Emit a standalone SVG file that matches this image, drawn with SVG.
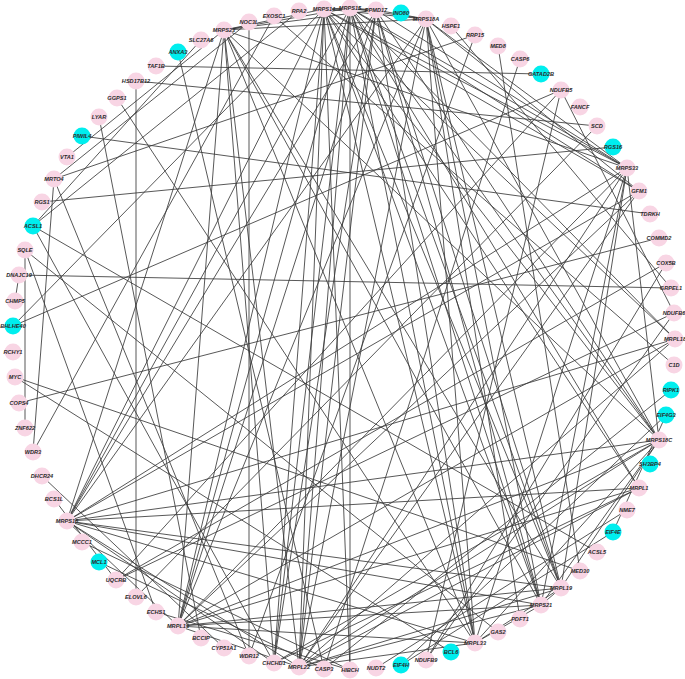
<svg xmlns="http://www.w3.org/2000/svg" width="685" height="679" viewBox="0 0 685 679">
<style>
.e line{stroke:#3a3a3a;stroke-width:0.85}
.node circle{fill:#F8D5E4}
.node.hub circle{fill:#00EEEE}
.node text{font-family:"Liberation Sans",Arial,sans-serif;font-size:5.6px;font-weight:bold;font-style:italic;fill:#2a2a2a;text-anchor:middle}
</style>
<rect width="685" height="679" fill="#fff"/>
<g id="connectors" class="e">
<line x1="224" y1="30" x2="324" y2="9"/><line x1="224" y1="30" x2="350" y2="8"/><line x1="224" y1="30" x2="376" y2="10"/><line x1="224" y1="30" x2="426" y2="19"/><line x1="224" y1="30" x2="627" y2="168"/><line x1="224" y1="30" x2="659" y2="440"/><line x1="224" y1="30" x2="561" y2="588"/><line x1="224" y1="30" x2="541" y2="605"/><line x1="224" y1="30" x2="475" y2="643"/><line x1="224" y1="30" x2="299" y2="667"/><line x1="224" y1="30" x2="178" y2="626"/><line x1="224" y1="30" x2="67" y2="521"/>
<line x1="324" y1="9" x2="350" y2="8"/><line x1="324" y1="9" x2="376" y2="10"/><line x1="324" y1="9" x2="426" y2="19"/><line x1="324" y1="9" x2="627" y2="168"/><line x1="324" y1="9" x2="659" y2="440"/><line x1="324" y1="9" x2="561" y2="588"/><line x1="324" y1="9" x2="541" y2="605"/><line x1="324" y1="9" x2="475" y2="643"/><line x1="324" y1="9" x2="299" y2="667"/><line x1="324" y1="9" x2="178" y2="626"/><line x1="324" y1="9" x2="67" y2="521"/>
<line x1="350" y1="8" x2="376" y2="10"/><line x1="350" y1="8" x2="426" y2="19"/><line x1="350" y1="8" x2="627" y2="168"/><line x1="350" y1="8" x2="659" y2="440"/><line x1="350" y1="8" x2="561" y2="588"/><line x1="350" y1="8" x2="541" y2="605"/><line x1="350" y1="8" x2="475" y2="643"/><line x1="350" y1="8" x2="299" y2="667"/><line x1="350" y1="8" x2="178" y2="626"/><line x1="350" y1="8" x2="67" y2="521"/>
<line x1="376" y1="10" x2="426" y2="19"/><line x1="376" y1="10" x2="627" y2="168"/><line x1="376" y1="10" x2="659" y2="440"/><line x1="376" y1="10" x2="561" y2="588"/><line x1="376" y1="10" x2="541" y2="605"/><line x1="376" y1="10" x2="475" y2="643"/><line x1="376" y1="10" x2="299" y2="667"/><line x1="376" y1="10" x2="178" y2="626"/><line x1="376" y1="10" x2="67" y2="521"/>
<line x1="426" y1="19" x2="627" y2="168"/><line x1="426" y1="19" x2="659" y2="440"/><line x1="426" y1="19" x2="561" y2="588"/><line x1="426" y1="19" x2="541" y2="605"/><line x1="426" y1="19" x2="475" y2="643"/><line x1="426" y1="19" x2="299" y2="667"/><line x1="426" y1="19" x2="178" y2="626"/><line x1="426" y1="19" x2="67" y2="521"/>
<line x1="627" y1="168" x2="659" y2="440"/><line x1="627" y1="168" x2="561" y2="588"/><line x1="627" y1="168" x2="541" y2="605"/><line x1="627" y1="168" x2="475" y2="643"/><line x1="627" y1="168" x2="299" y2="667"/><line x1="627" y1="168" x2="178" y2="626"/><line x1="627" y1="168" x2="67" y2="521"/>
<line x1="659" y1="440" x2="561" y2="588"/><line x1="659" y1="440" x2="541" y2="605"/><line x1="659" y1="440" x2="475" y2="643"/><line x1="659" y1="440" x2="299" y2="667"/><line x1="659" y1="440" x2="178" y2="626"/><line x1="659" y1="440" x2="67" y2="521"/>
<line x1="561" y1="588" x2="541" y2="605"/><line x1="561" y1="588" x2="475" y2="643"/><line x1="561" y1="588" x2="299" y2="667"/><line x1="561" y1="588" x2="178" y2="626"/><line x1="561" y1="588" x2="67" y2="521"/>
<line x1="541" y1="605" x2="475" y2="643"/><line x1="541" y1="605" x2="299" y2="667"/><line x1="541" y1="605" x2="178" y2="626"/><line x1="541" y1="605" x2="67" y2="521"/>
<line x1="475" y1="643" x2="299" y2="667"/><line x1="475" y1="643" x2="178" y2="626"/><line x1="475" y1="643" x2="67" y2="521"/>
<line x1="299" y1="667" x2="178" y2="626"/><line x1="299" y1="667" x2="67" y2="521"/><line x1="178" y1="626" x2="67" y2="521"/>
<line x1="639" y1="191" x2="324" y2="9"/><line x1="639" y1="191" x2="350" y2="8"/><line x1="639" y1="191" x2="426" y2="19"/><line x1="639" y1="191" x2="67" y2="521"/><line x1="639" y1="191" x2="178" y2="626"/><line x1="639" y1="191" x2="299" y2="667"/>
<line x1="675" y1="339" x2="67" y2="521"/><line x1="675" y1="339" x2="178" y2="626"/><line x1="675" y1="339" x2="324" y2="9"/><line x1="675" y1="339" x2="350" y2="8"/><line x1="675" y1="339" x2="299" y2="667"/>
<line x1="639" y1="488" x2="67" y2="521"/><line x1="639" y1="488" x2="178" y2="626"/><line x1="639" y1="488" x2="350" y2="8"/><line x1="639" y1="488" x2="324" y2="9"/><line x1="639" y1="488" x2="299" y2="667"/>
<line x1="274" y1="663" x2="224" y2="30"/><line x1="274" y1="663" x2="324" y2="9"/><line x1="274" y1="663" x2="350" y2="8"/><line x1="274" y1="663" x2="376" y2="10"/><line x1="274" y1="663" x2="659" y2="440"/><line x1="274" y1="663" x2="67" y2="521"/><line x1="274" y1="663" x2="639" y2="488"/>
<line x1="249" y1="22" x2="249" y2="656"/><line x1="136" y1="81" x2="136" y2="597"/><line x1="156" y1="66" x2="541" y2="74"/><line x1="136" y1="81" x2="597" y2="126"/><line x1="82" y1="136" x2="650" y2="214"/><line x1="42" y1="202" x2="613" y2="147"/>
<line x1="13" y1="326" x2="324" y2="9"/><line x1="13" y1="326" x2="561" y2="90"/><line x1="19" y1="275" x2="671" y2="288"/><line x1="19" y1="275" x2="15" y2="301"/><line x1="25" y1="250" x2="498" y2="632"/><line x1="25" y1="428" x2="25" y2="250"/>
<line x1="33" y1="452" x2="54" y2="179"/><line x1="25" y1="250" x2="156" y2="612"/><line x1="33" y1="226" x2="274" y2="663"/><line x1="33" y1="226" x2="299" y2="11"/><line x1="15" y1="377" x2="580" y2="571"/><line x1="19" y1="403" x2="659" y2="238"/>
<line x1="42" y1="476" x2="224" y2="648"/><line x1="54" y1="499" x2="116" y2="580"/><line x1="99" y1="562" x2="324" y2="669"/><line x1="116" y1="580" x2="561" y2="90"/><line x1="116" y1="580" x2="666" y2="263"/><line x1="116" y1="580" x2="674" y2="313"/>
<line x1="426" y1="660" x2="674" y2="313"/><line x1="426" y1="660" x2="561" y2="90"/><line x1="561" y1="90" x2="674" y2="313"/><line x1="401" y1="665" x2="613" y2="532"/><line x1="613" y1="532" x2="666" y2="415"/><line x1="401" y1="665" x2="666" y2="415"/>
<line x1="520" y1="59" x2="324" y2="669"/><line x1="324" y1="669" x2="671" y2="390"/><line x1="498" y1="46" x2="580" y2="571"/><line x1="350" y1="670" x2="324" y2="9"/><line x1="350" y1="670" x2="350" y2="8"/><line x1="117" y1="98" x2="475" y2="643"/>
<line x1="99" y1="117" x2="201" y2="638"/><line x1="178" y1="52" x2="324" y2="669"/><line x1="54" y1="179" x2="475" y2="35"/><line x1="54" y1="179" x2="249" y2="22"/><line x1="54" y1="179" x2="249" y2="656"/><line x1="67" y1="157" x2="224" y2="30"/>
<line x1="201" y1="40" x2="33" y2="226"/><line x1="33" y1="226" x2="597" y2="552"/><line x1="597" y1="126" x2="136" y2="597"/><line x1="451" y1="26" x2="671" y2="288"/><line x1="274" y1="16" x2="33" y2="452"/><line x1="627" y1="510" x2="376" y2="668"/>
<line x1="674" y1="365" x2="274" y2="16"/><line x1="451" y1="652" x2="15" y2="377"/><line x1="156" y1="612" x2="350" y2="670"/><line x1="82" y1="542" x2="350" y2="670"/><line x1="666" y1="263" x2="426" y2="660"/><line x1="520" y1="619" x2="426" y2="19"/><line x1="475" y1="35" x2="249" y2="656"/>
</g>
<g id="n-MRPS23" class="node"><circle cx="224" cy="30" r="8.5"/><text x="224" y="32">MRPS23</text></g>
<g id="n-NOC3L" class="node"><circle cx="249" cy="22" r="8.5"/><text x="249" y="24">NOC3L</text></g>
<g id="n-EXOSC1" class="node"><circle cx="274" cy="16" r="8.5"/><text x="274" y="18">EXOSC1</text></g>
<g id="n-RPA2" class="node"><circle cx="299" cy="11" r="8.5"/><text x="299" y="13">RPA2</text></g>
<g id="n-MRPS14" class="node"><circle cx="324" cy="9" r="8.5"/><text x="324" y="11">MRPS14</text></g>
<g id="n-MRPS15" class="node"><circle cx="350" cy="8" r="8.5"/><text x="350" y="10">MRPS15</text></g>
<g id="n-PPMD17" class="node"><circle cx="376" cy="10" r="8.5"/><text x="376" y="12">PPMD17</text></g>
<g id="n-INO80" class="node hub"><circle cx="401" cy="13" r="8.5"/><text x="401" y="15">INO80</text></g>
<g id="n-MRPS18A" class="node"><circle cx="426" cy="19" r="8.5"/><text x="426" y="21">MRPS18A</text></g>
<g id="n-HSPE1" class="node"><circle cx="451" cy="26" r="8.5"/><text x="451" y="28">HSPE1</text></g>
<g id="n-RRP15" class="node"><circle cx="475" cy="35" r="8.5"/><text x="475" y="37">RRP15</text></g>
<g id="n-MED8" class="node"><circle cx="498" cy="46" r="8.5"/><text x="498" y="48">MED8</text></g>
<g id="n-CASP6" class="node"><circle cx="520" cy="59" r="8.5"/><text x="520" y="61">CASP6</text></g>
<g id="n-GATAD2B" class="node hub"><circle cx="541" cy="74" r="8.5"/><text x="541" y="76">GATAD2B</text></g>
<g id="n-NDUFB5" class="node"><circle cx="561" cy="90" r="8.5"/><text x="561" y="92">NDUFB5</text></g>
<g id="n-FANCF" class="node"><circle cx="580" cy="107" r="8.5"/><text x="580" y="109">FANCF</text></g>
<g id="n-SCD" class="node"><circle cx="597" cy="126" r="8.5"/><text x="597" y="128">SCD</text></g>
<g id="n-RGS16" class="node hub"><circle cx="613" cy="147" r="8.5"/><text x="613" y="149">RGS16</text></g>
<g id="n-MRPS33" class="node"><circle cx="627" cy="168" r="8.5"/><text x="627" y="170">MRPS33</text></g>
<g id="n-GFM1" class="node"><circle cx="639" cy="191" r="8.5"/><text x="639" y="193">GFM1</text></g>
<g id="n-TDRKH" class="node"><circle cx="650" cy="214" r="8.5"/><text x="650" y="216">TDRKH</text></g>
<g id="n-COMMD2" class="node"><circle cx="659" cy="238" r="8.5"/><text x="659" y="240">COMMD2</text></g>
<g id="n-COX5B" class="node"><circle cx="666" cy="263" r="8.5"/><text x="666" y="265">COX5B</text></g>
<g id="n-GRPEL1" class="node"><circle cx="671" cy="288" r="8.5"/><text x="671" y="290">GRPEL1</text></g>
<g id="n-NDUFB6" class="node"><circle cx="674" cy="313" r="8.5"/><text x="674" y="315">NDUFB6</text></g>
<g id="n-MRPL18" class="node"><circle cx="675" cy="339" r="8.5"/><text x="675" y="341">MRPL18</text></g>
<g id="n-C1D" class="node"><circle cx="674" cy="365" r="8.5"/><text x="674" y="367">C1D</text></g>
<g id="n-RIPK1" class="node hub"><circle cx="671" cy="390" r="8.5"/><text x="671" y="392">RIPK1</text></g>
<g id="n-EIF4G3" class="node hub"><circle cx="666" cy="415" r="8.5"/><text x="666" y="417">EIF4G3</text></g>
<g id="n-MRPS18C" class="node"><circle cx="659" cy="440" r="8.5"/><text x="659" y="442">MRPS18C</text></g>
<g id="n-SH3BP4" class="node hub"><circle cx="650" cy="464" r="8.5"/><text x="650" y="466">SH3BP4</text></g>
<g id="n-MRPL1" class="node"><circle cx="639" cy="488" r="8.5"/><text x="639" y="490">MRPL1</text></g>
<g id="n-NME7" class="node"><circle cx="627" cy="510" r="8.5"/><text x="627" y="512">NME7</text></g>
<g id="n-EIF4E" class="node hub"><circle cx="613" cy="532" r="8.5"/><text x="613" y="534">EIF4E</text></g>
<g id="n-ACSL5" class="node"><circle cx="597" cy="552" r="8.5"/><text x="597" y="554">ACSL5</text></g>
<g id="n-MED30" class="node"><circle cx="580" cy="571" r="8.5"/><text x="580" y="573">MED30</text></g>
<g id="n-MRPL19" class="node"><circle cx="561" cy="588" r="8.5"/><text x="561" y="590">MRPL19</text></g>
<g id="n-MRPS21" class="node"><circle cx="541" cy="605" r="8.5"/><text x="541" y="607">MRPS21</text></g>
<g id="n-PDFT1" class="node"><circle cx="520" cy="619" r="8.5"/><text x="520" y="621">PDFT1</text></g>
<g id="n-GAS2" class="node"><circle cx="498" cy="632" r="8.5"/><text x="498" y="634">GAS2</text></g>
<g id="n-MRPL33" class="node"><circle cx="475" cy="643" r="8.5"/><text x="475" y="645">MRPL33</text></g>
<g id="n-BCL6" class="node hub"><circle cx="451" cy="652" r="8.5"/><text x="451" y="654">BCL6</text></g>
<g id="n-NDUFB9" class="node"><circle cx="426" cy="660" r="8.5"/><text x="426" y="662">NDUFB9</text></g>
<g id="n-EIF4H" class="node hub"><circle cx="401" cy="665" r="8.5"/><text x="401" y="667">EIF4H</text></g>
<g id="n-NUDT2" class="node"><circle cx="376" cy="668" r="8.5"/><text x="376" y="670">NUDT2</text></g>
<g id="n-HIBCH" class="node"><circle cx="350" cy="670" r="8.5"/><text x="350" y="672">HIBCH</text></g>
<g id="n-CASP3" class="node"><circle cx="324" cy="669" r="8.5"/><text x="324" y="671">CASP3</text></g>
<g id="n-MRPL22" class="node"><circle cx="299" cy="667" r="8.5"/><text x="299" y="669">MRPL22</text></g>
<g id="n-CHCHD1" class="node"><circle cx="274" cy="663" r="8.5"/><text x="274" y="665">CHCHD1</text></g>
<g id="n-WDR12" class="node"><circle cx="249" cy="656" r="8.5"/><text x="249" y="658">WDR12</text></g>
<g id="n-CYP51A1" class="node"><circle cx="224" cy="648" r="8.5"/><text x="224" y="650">CYP51A1</text></g>
<g id="n-BCCIP" class="node"><circle cx="201" cy="638" r="8.5"/><text x="201" y="640">BCCIP</text></g>
<g id="n-MRPL13" class="node"><circle cx="178" cy="626" r="8.5"/><text x="178" y="628">MRPL13</text></g>
<g id="n-ECHS1" class="node"><circle cx="156" cy="612" r="8.5"/><text x="156" y="614">ECHS1</text></g>
<g id="n-ELOVL6" class="node"><circle cx="136" cy="597" r="8.5"/><text x="136" y="599">ELOVL6</text></g>
<g id="n-UQCRB" class="node"><circle cx="116" cy="580" r="8.5"/><text x="116" y="582">UQCRB</text></g>
<g id="n-MCL1" class="node hub"><circle cx="99" cy="562" r="8.5"/><text x="99" y="564">MCL1</text></g>
<g id="n-MCCC1" class="node"><circle cx="82" cy="542" r="8.5"/><text x="82" y="544">MCCC1</text></g>
<g id="n-MRPS16" class="node"><circle cx="67" cy="521" r="8.5"/><text x="67" y="523">MRPS16</text></g>
<g id="n-BCS1L" class="node"><circle cx="54" cy="499" r="8.5"/><text x="54" y="501">BCS1L</text></g>
<g id="n-DHCR24" class="node"><circle cx="42" cy="476" r="8.5"/><text x="42" y="478">DHCR24</text></g>
<g id="n-WDR3" class="node"><circle cx="33" cy="452" r="8.5"/><text x="33" y="454">WDR3</text></g>
<g id="n-ZNF622" class="node"><circle cx="25" cy="428" r="8.5"/><text x="25" y="430">ZNF622</text></g>
<g id="n-COPS4" class="node"><circle cx="19" cy="403" r="8.5"/><text x="19" y="405">COPS4</text></g>
<g id="n-MYC" class="node"><circle cx="15" cy="377" r="8.5"/><text x="15" y="379">MYC</text></g>
<g id="n-RCHY1" class="node"><circle cx="13" cy="352" r="8.5"/><text x="13" y="354">RCHY1</text></g>
<g id="n-BHLHE40" class="node hub"><circle cx="13" cy="326" r="8.5"/><text x="13" y="328">BHLHE40</text></g>
<g id="n-CHMP5" class="node"><circle cx="15" cy="301" r="8.5"/><text x="15" y="303">CHMP5</text></g>
<g id="n-DNAJC19" class="node"><circle cx="19" cy="275" r="8.5"/><text x="19" y="277">DNAJC19</text></g>
<g id="n-SQLE" class="node"><circle cx="25" cy="250" r="8.5"/><text x="25" y="252">SQLE</text></g>
<g id="n-ACSL1" class="node hub"><circle cx="33" cy="226" r="8.5"/><text x="33" y="228">ACSL1</text></g>
<g id="n-RGS1" class="node"><circle cx="42" cy="202" r="8.5"/><text x="42" y="204">RGS1</text></g>
<g id="n-MRTO4" class="node"><circle cx="54" cy="179" r="8.5"/><text x="54" y="181">MRTO4</text></g>
<g id="n-VTA1" class="node"><circle cx="67" cy="157" r="8.5"/><text x="67" y="159">VTA1</text></g>
<g id="n-PIWIL4" class="node hub"><circle cx="82" cy="136" r="8.5"/><text x="82" y="138">PIWIL4</text></g>
<g id="n-LYAR" class="node"><circle cx="99" cy="117" r="8.5"/><text x="99" y="119">LYAR</text></g>
<g id="n-GGPS1" class="node"><circle cx="117" cy="98" r="8.5"/><text x="117" y="100">GGPS1</text></g>
<g id="n-HSD17B12" class="node"><circle cx="136" cy="81" r="8.5"/><text x="136" y="83">HSD17B12</text></g>
<g id="n-TAF1B" class="node"><circle cx="156" cy="66" r="8.5"/><text x="156" y="68">TAF1B</text></g>
<g id="n-ANXA3" class="node hub"><circle cx="178" cy="52" r="8.5"/><text x="178" y="54">ANXA3</text></g>
<g id="n-SLC27A6" class="node"><circle cx="201" cy="40" r="8.5"/><text x="201" y="42">SLC27A6</text></g>
</svg>
